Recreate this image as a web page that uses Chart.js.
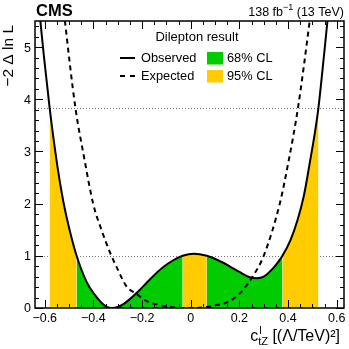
<!DOCTYPE html>
<html>
<head>
<meta charset="utf-8">
<script src="https://cdn.jsdelivr.net/npm/chart.js@4.4.0/dist/chart.umd.min.js"></script>
<style>
body{margin:0;background:#fff}
canvas{display:block}
</style>
</head>
<body>
<canvas id="myChart" width="349" height="349"></canvas>
<script>
// observed scan
var obsX = [-0.625,-0.618,-0.604,-0.580,-0.548,-0.524,-0.497,-0.469,-0.428,-0.394,-0.367,-0.345,-0.322,-0.300,-0.275,-0.250,-0.215,-0.182,-0.150,-0.114,-0.070,-0.033,0.012,0.066,0.110,0.160,0.200,0.242,0.272,0.300,0.338,0.359,0.377,0.410,0.440,0.465,0.490,0.510,0.525,0.548,0.562,0.570];
var obsY = [5.80,5.50,4.85,3.84,2.72,2.05,1.48,1.00,0.50,0.25,0.10,0.02,0.00,0.02,0.08,0.17,0.32,0.48,0.63,0.78,0.92,1.00,1.04,1.00,0.92,0.80,0.69,0.59,0.57,0.60,0.76,0.88,1.00,1.30,1.70,2.15,2.80,3.35,3.84,4.85,5.50,5.85];
// expected scan
var expX = [-0.525,-0.517,-0.474,-0.438,-0.401,-0.367,-0.326,-0.303,-0.264,-0.223,-0.180,-0.120,-0.060,0.000,0.050,0.100,0.150,0.200,0.255,0.300,0.366,0.400,0.441,0.489,0.497];
var expY = [5.85,5.50,3.84,2.88,2.00,1.50,1.00,0.77,0.415,0.27,0.13,0.05,0.01,0.00,0.01,0.05,0.11,0.27,0.61,1.00,2.00,2.76,3.84,5.50,5.80];
var cl68 = [[-0.469,-0.033],[0.066,0.377]];
var cl95 = [[-0.580,0.525]];
var thresholds = [1, 3.84];
var xTicks = [-0.6,-0.4,-0.2,0,0.2,0.4,0.6];
var xTickLabels = ['\u22120.6','\u22120.4','\u22120.2','0','0.2','0.4','0.6'];
var yTicks = [0,1,2,3,4,5];
var yTickLabels = ['0','1','2','3','4','5'];
var seriesNames = ['Observed','Expected'];
var clNames = ['68% CL','95% CL'];

var green = 'rgb(0,204,0)';
var yellow = 'rgb(255,204,0)';
var font = '"Liberation Sans", Arial, sans-serif';

function pts(xs, ys) {
    return xs.map(function (v, i) { return {x: v, y: ys[i]}; });
}
function inside(v, ranges) {
    return ranges.some(function (r) { return v >= r[0] && v <= r[1]; });
}
function bandColor(c) {
    var m = (c.p0.parsed.x + c.p1.parsed.x) / 2;
    if (inside(m, cl68)) return green;
    if (inside(m, cl95)) return yellow;
    return 'rgba(0,0,0,0)';
}

var framePlugin = {
    id: 'cmsFrame',
    beforeDatasetsDraw: function (chart) {
        var ctx = chart.ctx, a = chart.chartArea, ys = chart.scales.y;
        ctx.save();
        ctx.strokeStyle = '#777';
        ctx.lineWidth = 1;
        ctx.setLineDash([1, 2]);
        thresholds.forEach(function (t) {
            var py = Math.round(ys.getPixelForValue(t)) + 0.5;
            ctx.beginPath();
            ctx.moveTo(a.left, py);
            ctx.lineTo(a.right, py);
            ctx.stroke();
        });
        ctx.restore();
    },
    afterDraw: function (chart) {
        var ctx = chart.ctx, a = chart.chartArea;
        var xs = chart.scales.x, ys = chart.scales.y;
        ctx.save();
        ctx.strokeStyle = '#000';
        ctx.lineWidth = 1.5;
        ctx.strokeRect(a.left, a.top, a.right - a.left, a.bottom - a.top);

        // ticks, inward on all four sides
        ctx.lineWidth = 1;
        var i, v, p, len;
        for (i = -13; i <= 13; i++) {
            v = i * 0.05;
            if (v < xs.min || v > xs.max) continue;
            p = Math.round(xs.getPixelForValue(v)) + 0.5;
            len = (i % 4 === 0) ? 8 : 4;
            ctx.beginPath();
            ctx.moveTo(p, a.bottom); ctx.lineTo(p, a.bottom - len);
            ctx.moveTo(p, a.top); ctx.lineTo(p, a.top + len);
            ctx.stroke();
        }
        for (i = 0; i <= 27; i++) {
            v = i * 0.2;
            if (v > ys.max) continue;
            p = Math.round(ys.getPixelForValue(v)) + 0.5;
            len = (i % 5 === 0) ? 8 : 4;
            ctx.beginPath();
            ctx.moveTo(a.left, p); ctx.lineTo(a.left + len, p);
            ctx.moveTo(a.right, p); ctx.lineTo(a.right - len, p);
            ctx.stroke();
        }

        // tick labels
        ctx.fillStyle = '#000';
        ctx.font = '12.5px ' + font;
        ctx.textAlign = 'center';
        ctx.textBaseline = 'top';
        xTicks.forEach(function (t, k) {
            ctx.fillText(xTickLabels[k], xs.getPixelForValue(t), a.bottom + 4);
        });
        ctx.textAlign = 'right';
        ctx.textBaseline = 'middle';
        yTicks.forEach(function (t, k) {
            ctx.fillText(yTickLabels[k], a.left - 4, ys.getPixelForValue(t) + 1);
        });

        // y title
        ctx.save();
        ctx.translate(9, 25);
        ctx.rotate(-Math.PI / 2);
        ctx.font = '15.5px ' + font;
        ctx.textAlign = 'right';
        ctx.textBaseline = 'middle';
        ctx.fillText('\u22122 \u0394 ln L', 0, 0);
        ctx.restore();

        // x title
        ctx.textAlign = 'left';
        ctx.textBaseline = 'alphabetic';
        var big = '16px ' + font, small = '11px ' + font;
        ctx.font = big;
        var wc = ctx.measureText('c').width;
        var tail = ' [(\u039B/TeV)\u00B2]';
        var wt = ctx.measureText(tail).width;
        ctx.font = small;
        var ws = ctx.measureText('tZ').width;
        var x0 = a.right - 4 - wt - ws - wc;
        ctx.font = big;
        ctx.fillText('c', x0, 341);
        ctx.font = small;
        ctx.fillText('l', x0 + wc + 1, 334);
        ctx.fillText('tZ', x0 + wc, 345);
        ctx.font = big;
        ctx.fillText(tail, x0 + wc + ws, 341);

        // CMS label and lumi
        ctx.font = 'bold 16.5px ' + font;
        ctx.fillText('CMS', a.left + 1, 16);
        ctx.font = '12.5px ' + font;
        var s1 = '138 fb', s3 = ' (13 TeV)';
        var w1 = ctx.measureText(s1).width, w3 = ctx.measureText(s3).width;
        ctx.font = '9px ' + font;
        var w2 = ctx.measureText('\u22121').width;
        var lx = a.right - w1 - w2 - w3;
        ctx.font = '12.5px ' + font;
        ctx.fillText(s1, lx, 16);
        ctx.fillText(s3, lx + w1 + w2, 16);
        ctx.font = '9px ' + font;
        ctx.fillText('\u22121', lx + w1, 10);

        // legend
        ctx.font = '13px ' + font;
        ctx.textAlign = 'center';
        ctx.textBaseline = 'middle';
        ctx.fillText('Dilepton result', 197, 37);
        ctx.textAlign = 'left';
        ctx.font = '12.8px ' + font;
        ctx.fillText(seriesNames[0], 141, 58.5);
        ctx.fillText(seriesNames[1], 141, 76.5);
        ctx.fillText(clNames[0], 227, 58.5);
        ctx.fillText(clNames[1], 227, 76.5);
        ctx.lineWidth = 2;
        ctx.beginPath();
        ctx.moveTo(120, 58); ctx.lineTo(135, 58);
        ctx.stroke();
        ctx.setLineDash([5, 5]);
        ctx.beginPath();
        ctx.moveTo(120, 76); ctx.lineTo(135, 76);
        ctx.stroke();
        ctx.setLineDash([]);
        ctx.fillStyle = green;
        ctx.fillRect(207, 52, 16, 12.5);
        ctx.fillStyle = yellow;
        ctx.fillRect(207, 70, 16, 12.5);
        ctx.restore();
    }
};

const chart = document.getElementById('myChart');
var lineChart = new Chart(chart, {
    type: 'line',
    data: {
        datasets: [
            {
                label: 'bands',
                data: pts(obsX, obsY),
                borderColor: 'rgba(0,0,0,0)',
                borderWidth: 0,
                backgroundColor: 'rgba(0,0,0,0)',
                fill: 'origin',
                pointRadius: 0,
                cubicInterpolationMode: 'monotone',
                segment: { backgroundColor: bandColor },
                order: 3
            },
            {
                label: seriesNames[1],
                data: pts(expX, expY),
                borderColor: '#000',
                borderWidth: 2,
                borderDash: [5, 4],
                fill: false,
                pointRadius: 0,
                cubicInterpolationMode: 'monotone',
                order: 2
            },
            {
                label: seriesNames[0],
                data: pts(obsX, obsY),
                borderColor: '#000',
                borderWidth: 2,
                fill: false,
                pointRadius: 0,
                cubicInterpolationMode: 'monotone',
                order: 1
            }
        ]
    },
    options: {
        responsive: false,
        animation: false,
        events: [],
        layout: { padding: { left: 35, right: 5, top: 21, bottom: 41 } },
        plugins: { legend: { display: false }, tooltip: { enabled: false } },
        scales: {
            x: { type: 'linear', min: -0.64, max: 0.63, display: false },
            y: { type: 'linear', min: 0, max: 5.5, display: false }
        }
    },
    plugins: [framePlugin]
});
</script>
</body>
</html>
